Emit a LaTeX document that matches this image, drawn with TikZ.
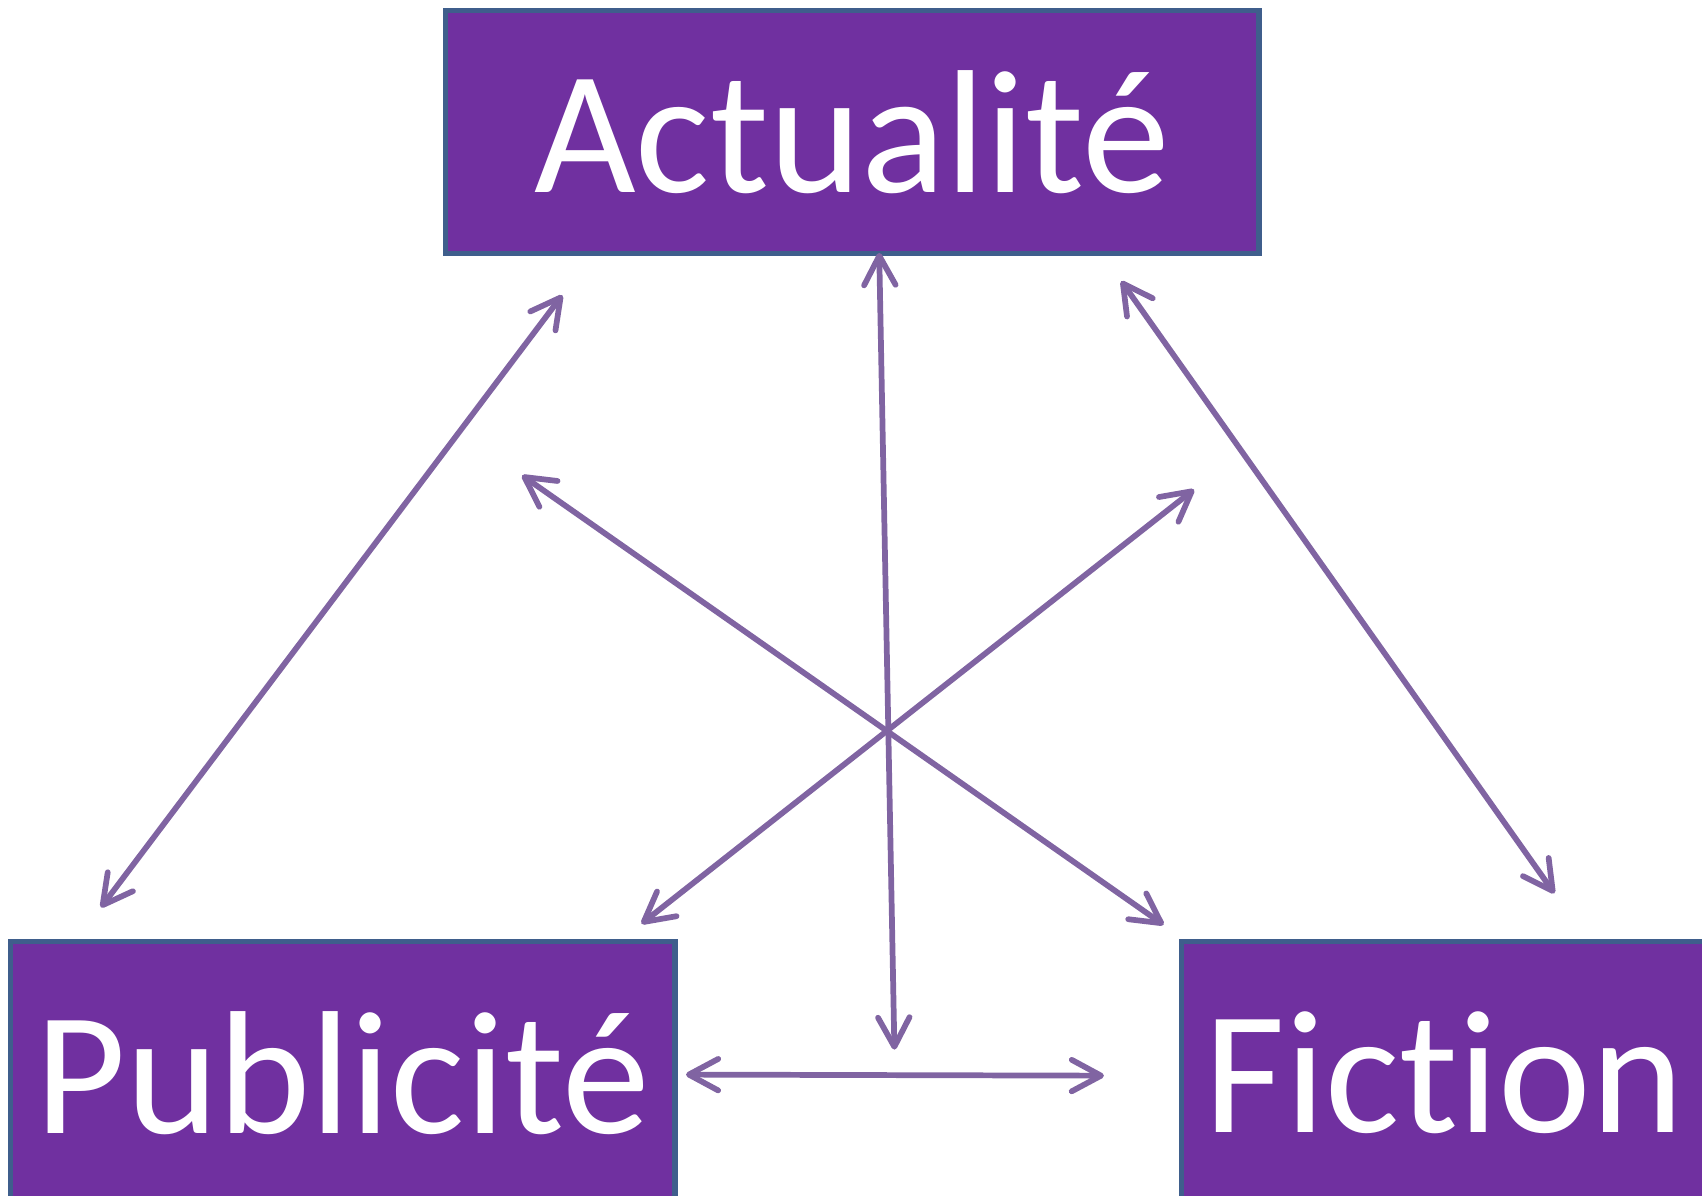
\documentclass[tikz,border=0pt]{standalone}
\usepackage{fontspec}
\setmainfont{Carlito}[Ligatures={NoCommon}]
\usetikzlibrary{arrows.meta, positioning}

\definecolor{boxpurple}{HTML}{7030A0}
\definecolor{boxedge}{HTML}{3F5E8C}
\definecolor{linkpurple}{HTML}{8064A2}

\begin{document}
\begin{tikzpicture}[
      x = 0.01cm, y = -0.01cm,     % one unit per pixel, y going down
      > = {Straight Barb[length=2.7mm, width=2.9mm, round]}, % open arrow head
      semithick
    ]

    \tikzstyle{B1}=[      % Defines style for the purple boxes
      fill = boxpurple,
      draw = boxedge,
      line width = 1.4pt,
      text = white,
      font = \fontsize{46}{50}\selectfont,
      inner sep = 0pt,
      anchor = north west
    ]

    \tikzstyle{L1}=[      % Defines style for the links
      <->,
      draw = linkpurple,
      line width = 1.5pt
    ]

    \useasboundingbox (0,0) rectangle (1568,1101);

    % Definition of the nodes
    \node[B1, minimum width=7.49cm, minimum height=2.24cm] (act) at (408,7) {Actualité};
    \node[B1, minimum width=6.12cm, minimum height=2.42cm] (pub) at (7,865) {Publicité};
    \node[B1, minimum width=4.84cm, minimum height=2.42cm] (fic) at (1086,865) {Fiction};

    % Free ends of the links
    \coordinate (actP) at (518,272);
    \coordinate (pubA) at (93,836);
    \coordinate (actF) at (1033,259);
    \coordinate (ficA) at (1432,823);
    \coordinate (actM) at (810,233);
    \coordinate (midM) at (824,967);
    \coordinate (crossNW) at (481,438);
    \coordinate (ficX) at (1072,852);
    \coordinate (crossNE) at (1100,451);
    \coordinate (pubX) at (591,851);
    \coordinate (pubF) at (632,990);
    \coordinate (ficP) at (1017,991);

    % Definition of the edges
    \draw[L1] (actP) -- (pubA);
    \draw[L1] (actF) -- (ficA);
    \draw[L1] (actM) -- (midM);
    \draw[L1] (crossNW) -- (ficX);
    \draw[L1] (crossNE) -- (pubX);
    \draw[L1] (pubF) -- (ficP);

  \end{tikzpicture}
\end{document}
